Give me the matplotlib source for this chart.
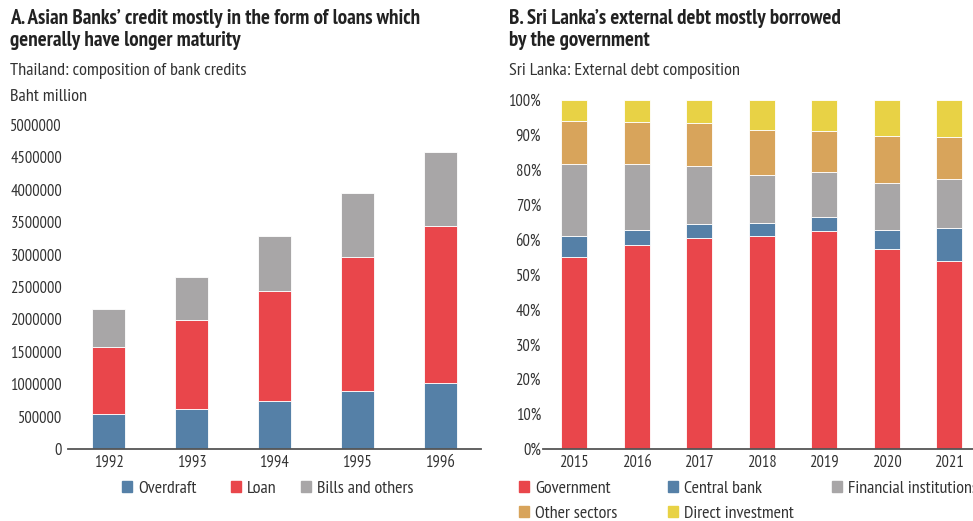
import matplotlib
matplotlib.use("Agg")
import matplotlib.pyplot as plt
from matplotlib.patches import Patch
from matplotlib import font_manager as fm
import numpy as np

# ---------------- data ----------------
years_a = ["1992", "1993", "1994", "1995", "1996"]
overdraft = [545000, 617000, 740000, 894000, 1017000]
loan = [1022000, 1367000, 1691000, 2076000, 2431000]
bills = [591000, 668000, 853000, 987000, 1136000]
yticks_a = [0, 500000, 1000000, 1500000, 2000000, 2500000, 3000000, 3500000, 4000000, 4500000, 5000000]

years_b = ["2015", "2016", "2017", "2018", "2019", "2020", "2021"]
government = [54.9, 58.4, 60.6, 60.9, 62.5, 57.4, 54.0]
central_bank = [6.2, 4.4, 3.8, 3.8, 4.0, 5.4, 9.4]
financial_inst = [20.6, 18.9, 16.8, 13.9, 12.9, 13.5, 14.0]
other_sectors = [12.3, 12.0, 12.2, 12.8, 11.7, 13.4, 12.0]
direct_inv = [6.0, 6.3, 6.6, 8.6, 8.9, 10.3, 10.6]
yticks_b = [0, 10, 20, 30, 40, 50, 60, 70, 80, 90, 100]

# ---------------- style ----------------
BLUE = "#5580A7"
RED = "#E9464B"
GREY = "#A8A6A7"
ORANGE = "#D8A45B"
YELLOW = "#E8D245"
TXT = "#333333"


def static_face(families, weight):
    for fam in families:
        for f in fm.fontManager.ttflist:
            fn = f.fname.lower()
            if (f.name == fam and f.weight == weight and f.style == "normal"
                    and "[" not in fn and "variable" not in fn and "wght" not in fn):
                return fm.FontProperties(fname=f.fname)
    return None


reg_fp = (static_face(["PT Sans Narrow", "Roboto Condensed", "Fira Sans Condensed", "Lato"], 400)
          or fm.FontProperties(family="DejaVu Sans"))
bold_fp = (static_face(["PT Sans Narrow", "Roboto Condensed", "Fira Sans Condensed", "Lato"], 700)
           or fm.FontProperties(family="DejaVu Sans", weight="bold"))

W, H = 973, 521
fig = plt.figure(figsize=(W / 100, H / 100), dpi=100)
renderer = fig.canvas.get_renderer()


def fp(base, size):
    p = base.copy()
    p.set_size(size)
    return p


def fit(base, sample, target_px, ref=12.0):
    w, _, _ = renderer.get_text_width_height_descent(sample, fp(base, ref), ismath=False)
    return ref * target_px / w


TFS = fit(bold_fp, "A. Asian Banks\u2019 credit mostly in the form of loans which", 410)
TXT_FS = fit(reg_fp, "Thailand: composition of bank credits", 236)
TICK_FS = fit(reg_fp, "5000000", 52)
LEG_FS = fit(reg_fp, "Bills and others", 97)
LEG_PX = LEG_FS * 100 / 72.0


def px_axes(left, top, right, bottom):
    return fig.add_axes([left / W, 1 - bottom / H, (right - left) / W, (bottom - top) / H])


def style_axes(ax):
    for s in ["left", "right", "top"]:
        ax.spines[s].set_visible(False)
    ax.spines["bottom"].set_color("#555555")
    ax.spines["bottom"].set_linewidth(1.3)
    ax.tick_params(axis="both", length=0, colors=TXT)
    for lab in ax.get_xticklabels() + ax.get_yticklabels():
        lab.set_fontproperties(fp(reg_fp, TICK_FS))


def legend_item(handle, x_px, y_px):
    fig.legend(handles=[handle], loc="center left", bbox_to_anchor=(x_px / W, 1 - y_px / H),
               frameon=False, prop=fp(reg_fp, LEG_FS), handlelength=10 / LEG_PX,
               handleheight=10 / LEG_PX, handletextpad=6 / LEG_PX, labelcolor=TXT,
               borderpad=0, borderaxespad=0)


# ---------------- panel A ----------------
axA = px_axes(68, 125, 481, 449)
xa = np.arange(len(years_a))
ob = np.array(overdraft)
lb = ob + np.array(loan)
kw = dict(width=0.4, edgecolor="white", linewidth=0.6)
axA.bar(xa, overdraft, color=BLUE, label="Overdraft", **kw)
axA.bar(xa, loan, bottom=ob, color=RED, label="Loan", **kw)
axA.bar(xa, bills, bottom=lb, color=GREY, label="Bills and others", **kw)
axA.set_ylim(0, 5000000)
axA.set_xlim(-0.49, 4.49)
axA.set_yticks(yticks_a)
axA.set_yticklabels([str(v) for v in yticks_a])
axA.set_xticks(xa)
axA.set_xticklabels(years_a)
style_axes(axA)
axA.tick_params(axis="y", pad=4.3)
axA.tick_params(axis="x", pad=4)

legend_item(Patch(color=BLUE, label="Overdraft"), 122, 489)
legend_item(Patch(color=RED, label="Loan"), 231, 489)
legend_item(Patch(color=GREY, label="Bills and others"), 301, 489)

fig.text(10 / W, 1 - 18 / H, "A. Asian Banks\u2019 credit mostly in the form of loans which",
         fontproperties=fp(bold_fp, TFS), color="#222222", va="center")
fig.text(10 / W, 1 - 41 / H, "generally have longer maturity",
         fontproperties=fp(bold_fp, TFS), color="#222222", va="center")
fig.text(10 / W, 1 - 71 / H, "Thailand: composition of bank credits",
         fontproperties=fp(reg_fp, TXT_FS), color=TXT, va="center")
fig.text(10 / W, 1 - 97 / H, "Baht million", fontproperties=fp(reg_fp, TXT_FS), color=TXT, va="center")

# ---------------- panel B ----------------
axB = px_axes(543, 100, 973, 449)
xb = np.arange(len(years_b))
g = np.array(government)
c1 = g + np.array(central_bank)
c2 = c1 + np.array(financial_inst)
c3 = c2 + np.array(other_sectors)
kwb = dict(width=0.41, edgecolor="white", linewidth=0.6)
axB.bar(xb, government, color=RED, label="Government", **kwb)
axB.bar(xb, central_bank, bottom=g, color=BLUE, label="Central bank", **kwb)
axB.bar(xb, financial_inst, bottom=c1, color=GREY, label="Financial institutions", **kwb)
axB.bar(xb, other_sectors, bottom=c2, color=ORANGE, label="Other sectors", **kwb)
axB.bar(xb, direct_inv, bottom=c3, color=YELLOW, label="Direct investment", **kwb)
axB.set_ylim(0, 100)
axB.set_xlim(-0.5, 6.38)
axB.set_yticks(yticks_b)
axB.set_yticklabels([f"{v}%" for v in yticks_b])
axB.set_xticks(xb)
axB.set_xticklabels(years_b)
style_axes(axB)
axB.tick_params(axis="y", pad=1.5)
axB.tick_params(axis="x", pad=4)

legend_item(Patch(color=RED, label="Government"), 519, 489)
legend_item(Patch(color=BLUE, label="Central bank"), 668, 489)
legend_item(Patch(color=GREY, label="Financial institutions"), 832, 489)
legend_item(Patch(color=ORANGE, label="Other sectors"), 519, 514)
legend_item(Patch(color=YELLOW, label="Direct investment"), 668, 514)

fig.text(509 / W, 1 - 18 / H, "B. Sri Lanka\u2019s external debt mostly borrowed",
         fontproperties=fp(bold_fp, TFS), color="#222222", va="center")
fig.text(509 / W, 1 - 41 / H, "by the government",
         fontproperties=fp(bold_fp, TFS), color="#222222", va="center")
fig.text(509 / W, 1 - 71 / H, "Sri Lanka: External debt composition",
         fontproperties=fp(reg_fp, TXT_FS), color=TXT, va="center")

fig.savefig("out.png", dpi=100)
